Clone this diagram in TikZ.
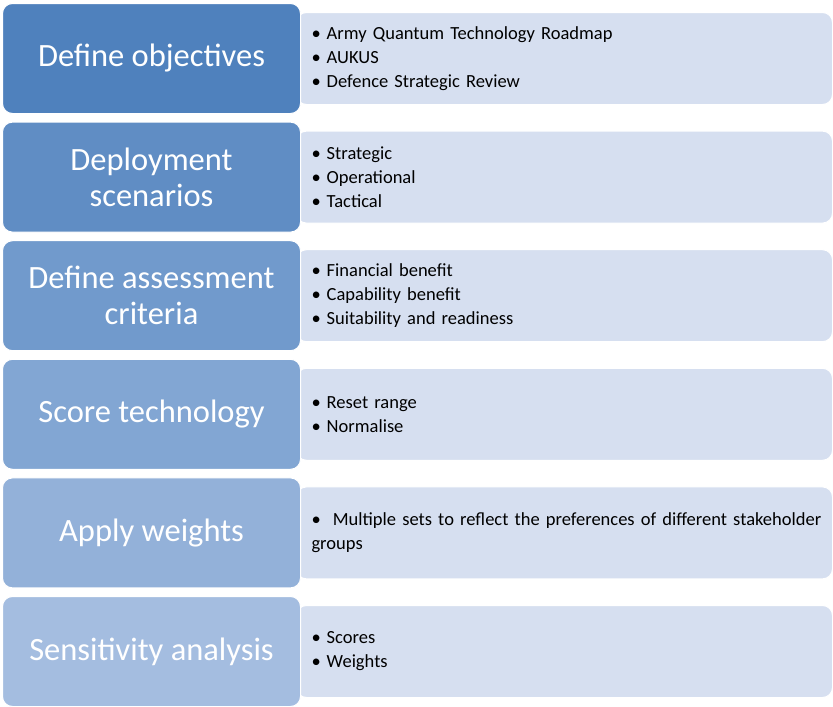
\documentclass[tikz,border=0pt]{standalone}
\usepackage{fontspec}
\setmainfont{Carlito}
\begin{document}
\begin{tikzpicture}[x=1pt,y=-1pt,
  leftbox/.style={draw=white,line width=1pt,rounded corners=10pt,minimum width=298pt,minimum height=110pt,anchor=north west,text=white,font=\fontsize{32.5}{36}\selectfont,align=center},
  rightbox/.style={draw=white,line width=1pt,fill=rb,rounded corners=10pt,minimum width=536pt,minimum height=92pt,anchor=north west},
  items/.style={anchor=west,font=\fontsize{18.5}{24}\selectfont,align=left,text width=525pt}]
\definecolor{rb}{RGB}{214,223,240}
\definecolor{c1}{RGB}{79,129,189}
\definecolor{c2}{RGB}{96,141,196}
\definecolor{c3}{RGB}{113,154,204}
\definecolor{c4}{RGB}{130,166,211}
\definecolor{c5}{RGB}{147,177,217}
\definecolor{c6}{RGB}{164,189,224}
\useasboundingbox (0,0) rectangle (833,707);
\def\bl{\textbullet\hspace{6pt}}
\foreach \i/\c/\t/\b in {
 1/c1/{Define objectives}/{\bl Army Quantum Technology Roadmap\\\bl AUKUS\\\bl Defence Strategic Review},
 2/c2/{Deployment\\scenarios}/{\bl Strategic\\\bl Operational\\\bl Tactical},
 3/c3/{Define assessment\\criteria}/{\bl Financial benefit\\\bl Capability benefit\\\bl Suitability and readiness},
 4/c4/{Score technology}/{\bl Reset range\\\bl Normalise},
 5/c5/{Apply weights}/{\bl\ Multiple sets to reflect the preferences of different stakeholder\\\hspace{0pt}groups},
 6/c6/{Sensitivity analysis}/{\bl Scores\\\bl Weights}} {
  \pgfmathsetmacro{\yy}{3+(\i-1)*118.6}
  \node[rightbox] (r\i) at (296,\yy+9) {};
  \node[leftbox,fill=\c] (l\i) at (2,\yy) {\t};
  \node[items] (t\i) at ([xshift=12pt]r\i.west) {\b};
}
\end{tikzpicture}
\end{document}
